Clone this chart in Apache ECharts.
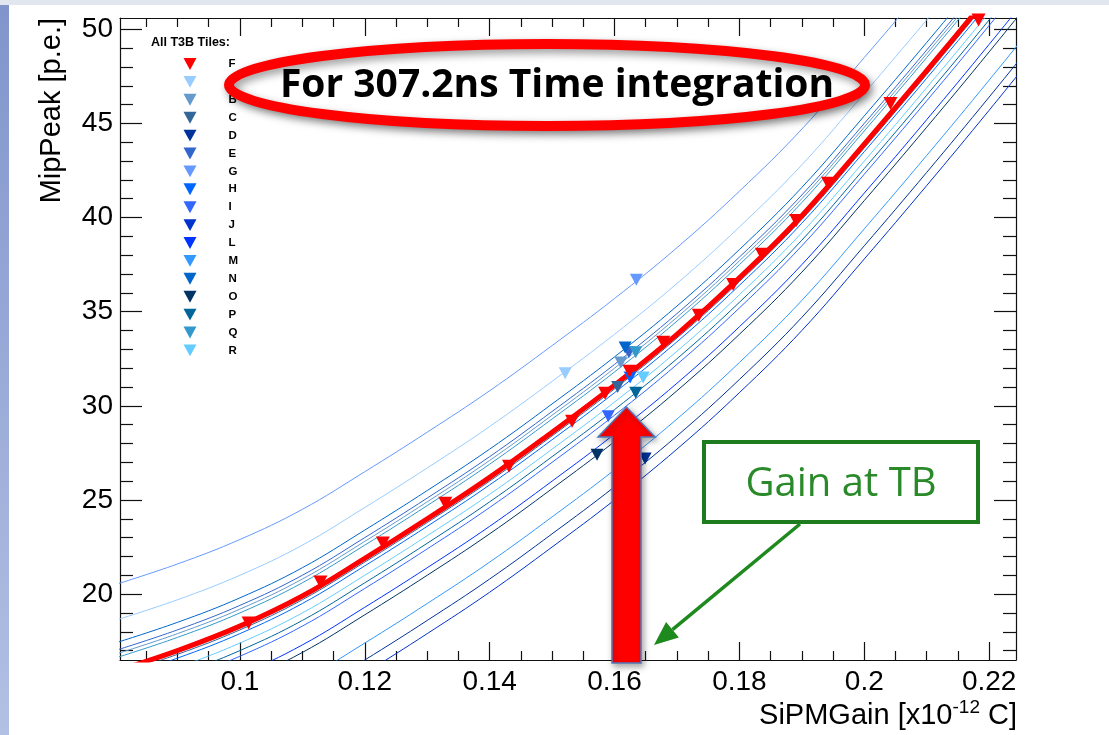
<!DOCTYPE html>
<html><head><meta charset="utf-8">
<script src="https://cdn.jsdelivr.net/npm/echarts@6/dist/echarts.min.js"></script>
<style>html,body{margin:0;padding:0;background:#fff}#c{width:1109px;height:735px}</style>
</head><body><div id="c"></div>
<script>
// ---- data ----
const tiles = ['F','A','B','C','D','E','G','H','I','J','L','M','N','O','P','Q','R'];
const gainGrid = [0.08,0.09,0.10,0.11,0.12,0.13,0.14,0.15,0.16,0.17,0.18,0.19,0.20,0.21,0.22,0.23];
const fitF = [15.9,17.0,18.3,19.9,21.9,24.0,26.2,28.6,31.1,33.8,36.8,40.1,43.9,47.8,51.8,55.9];
const fitA = [18.6,19.7,21.0,22.6,24.6,26.7,28.9,31.3,33.8,36.5,39.5,42.8,46.6,50.5,54.5,58.6];
const fitB = [16.8,17.9,19.2,20.8,22.8,24.9,27.1,29.5,32.0,34.7,37.7,41.0,44.8,48.7,52.7,56.8];
const fitC = [15.7,16.8,18.1,19.7,21.7,23.8,26.0,28.4,30.9,33.6,36.6,39.9,43.7,47.6,51.6,55.7];
const fitD = [10.5,11.6,12.9,14.5,16.5,18.6,20.8,23.2,25.7,28.4,31.4,34.7,38.5,42.4,46.4,50.5];
const fitE = [17.0,18.1,19.4,21.0,23.0,25.1,27.3,29.7,32.2,34.9,37.9,41.2,45.0,48.9,52.9,57.0];
const fitG = [20.5,21.6,22.9,24.5,26.5,28.6,30.8,33.2,35.7,38.4,41.4,44.7,48.5,52.4,56.4,60.5];
const fitH = [15.5,16.6,17.9,19.5,21.5,23.6,25.8,28.2,30.7,33.4,36.4,39.7,43.5,47.4,51.4,55.5];
const fitI = [14.3,15.4,16.7,18.3,20.3,22.4,24.6,27.0,29.5,32.2,35.2,38.5,42.3,46.2,50.2,54.3];
const fitJ = [9.8,10.9,12.2,13.8,15.8,17.9,20.1,22.5,25.0,27.7,30.7,34.0,37.8,41.7,45.7,49.8];
const fitL = [13.3,14.4,15.7,17.3,19.3,21.4,23.6,26.0,28.5,31.2,34.2,37.5,41.3,45.2,49.2,53.3];
const fitM = [11.4,12.5,13.8,15.4,17.4,19.5,21.7,24.1,26.6,29.3,32.3,35.6,39.4,43.3,47.3,51.4];
const fitN = [17.4,18.5,19.8,21.4,23.4,25.5,27.7,30.1,32.6,35.3,38.3,41.6,45.4,49.3,53.3,57.4];
const fitO = [12.9,14.0,15.3,16.9,18.9,21.0,23.2,25.6,28.1,30.8,33.8,37.1,40.9,44.8,48.8,52.9];
const fitP = [14.6,15.7,17.0,18.6,20.6,22.7,24.9,27.3,29.8,32.5,35.5,38.8,42.6,46.5,50.5,54.6];
const fitQ = [16.6,17.7,19.0,20.6,22.6,24.7,26.9,29.3,31.8,34.5,37.5,40.8,44.6,48.5,52.5,56.6];
const fitR = [15.0,16.1,17.4,19.0,21.0,23.1,25.3,27.7,30.2,32.9,35.9,39.2,43.0,46.9,50.9,55.0];

const ptsF = [[0.1014,18.46],[0.1129,20.64],[0.1229,22.71],[0.1329,24.83],[0.1431,26.79],[0.1532,29.18],[0.1585,30.67],[0.1624,31.84],[0.1678,33.38],[0.1735,34.81],[0.1790,36.45],[0.1836,38.05],[0.1891,39.85],[0.1942,41.82],[0.2042,46.06],[0.2183,50.5]];
const ptsA = [[0.1521,31.73]];
const ptsB = [[0.1610,32.3]];
const ptsC = [[0.1605,31.0]];
const ptsD = [[0.1649,27.2]];
const ptsE = [[0.1623,32.85]];
const ptsG = [[0.1635,36.7]];
const ptsH = [[0.1625,31.5]];
const ptsI = [[0.1590,29.45]];
const ptsJ = [[0.1620,25.3]];
const ptsL = [[0.1612,28.8]];
const ptsM = [[0.1620,27.1]];
const ptsN = [[0.1617,33.1]];
const ptsO = [[0.1572,27.4]];
const ptsP = [[0.1634,30.7]];
const ptsQ = [[0.1634,32.85]];
const ptsR = [[0.1646,31.5]];

const xMajor = [0.10,0.12,0.14,0.16,0.18,0.20,0.22];
const xMinor = [0.085,0.09,0.095,0.105,0.11,0.115,0.125,0.13,0.135,0.145,0.15,0.155,0.165,0.17,0.175,0.185,0.19,0.195,0.205,0.21,0.215];
const yMajor = [20,25,30,35,40,45,50];
const yMinor = [17,18,19,21,22,23,24,26,27,28,29,31,32,33,34,36,37,38,39,41,42,43,44,46,47,48,49];
const xRange = [0.0808, 0.2243];
const yRange = [16.5, 50.6];

// ---- styles ----
const tileColors = {F:'#ff0000',A:'#99ccff',B:'#6699cc',C:'#336699',D:'#003399',E:'#3366cc',G:'#6699ff',H:'#0066ff',I:'#3366ff',J:'#0033cc',L:'#0033ff',M:'#3399ff',N:'#0066cc',O:'#003366',P:'#006699',Q:'#3399cc',R:'#66ccff'};
const fits = {F:fitF,A:fitA,B:fitB,C:fitC,D:fitD,E:fitE,G:fitG,H:fitH,I:fitI,J:fitJ,L:fitL,M:fitM,N:fitN,O:fitO,P:fitP,Q:fitQ,R:fitR};
const pts = {F:ptsF,A:ptsA,B:ptsB,C:ptsC,D:ptsD,E:ptsE,G:ptsG,H:ptsH,I:ptsI,J:ptsJ,L:ptsL,M:ptsM,N:ptsN,O:ptsO,P:ptsP,Q:ptsQ,R:ptsR};
const FONT = '"Liberation Sans", Arial, sans-serif';

const series = [];
tiles.forEach(t => {
  series.push({
    name: t + ' fit', type: 'line', smooth: 0.4, showSymbol: false, clip: true,
    data: gainGrid.map((x, i) => [x, fits[t][i]]),
    lineStyle: {color: tileColors[t], width: t === 'F' ? 5 : 1},
    itemStyle: {color: tileColors[t]},
    z: t === 'F' ? 4 : 2, silent: true
  });
});
tiles.forEach(t => {
  series.push({
    name: t, type: 'scatter', symbol: 'triangle', symbolRotate: 180,
    symbolSize: t === 'F' ? [14, 13] : [13, 12],
    data: pts[t], clip: true,
    itemStyle: {color: tileColors[t], opacity: 1},
    z: t === 'F' ? 6 : 5, silent: true
  });
});

function xAx(pos, ticks, len, line) {
  return {type:'value', position:pos, min:xRange[0], max:xRange[1],
    axisLine:{show:line, onZero:false, lineStyle:{color:'#111', width:1.2}},
    axisTick:{show:true, inside:true, length:len, customValues:ticks, lineStyle:{color:'#111', width:1.2}},
    axisLabel:{show:false}, splitLine:{show:false}, minorTick:{show:false}};
}
function yAx(pos, ticks, len, line) {
  return {type:'value', position:pos, min:yRange[0], max:yRange[1],
    axisLine:{show:line, onZero:false, lineStyle:{color:'#111', width:1.2}},
    axisTick:{show:true, inside:true, length:len, customValues:ticks, lineStyle:{color:'#111', width:1.2}},
    axisLabel:{show:false}, splitLine:{show:false}, minorTick:{show:false}};
}
const xAxes = [xAx('bottom', xMajor, 18, true), xAx('bottom', xMinor, 9, false), xAx('top', xMajor, 18, true), xAx('top', xMinor, 9, false)];
xAxes[0].axisLabel = {show:true, customValues:xMajor, margin:8, fontSize:28, color:'#000', fontFamily:FONT};
const yAxes = [yAx('left', yMajor, 22, true), yAx('left', yMinor, 13, false), yAx('right', yMajor, 22, true), yAx('right', yMinor, 13, false)];
yAxes[0].axisLabel = {show:true, customValues:yMajor, margin:7, fontSize:28, color:'#000', fontFamily:FONT};

// annotation geometry (pixels)
const gStart = [800, 524], gTip = [654, 645];
const dx = gTip[0]-gStart[0], dy = gTip[1]-gStart[1], dl = Math.hypot(dx, dy);
const ux = dx/dl, uy = dy/dl, nx = -uy, ny = ux;
const hb = [gTip[0]-24*ux, gTip[1]-24*uy];

const chart = echarts.init(document.getElementById('c'), null, {renderer:'canvas'});
chart.setOption({
  animation: false,
  backgroundColor: '#ffffff',
  grid: {left:120, right:93, top:18, bottom:75, containLabel:false, outerBoundsMode:'none'},
  xAxis: xAxes,
  yAxis: yAxes,
  legend: {
    orient:'vertical', left:178.5, top:53, itemWidth:13, itemHeight:13, itemGap:5.9,
    selectedMode:false, data: tiles.map(t => ({name:t, icon:'path://M0,0L12,0L6,11Z'})),
    textStyle:{fontSize:11.5, fontWeight:'bold', color:'#000', fontFamily:FONT, padding:[0,0,0,27]}
  },
  series: series,
  graphic: [
    {type:'rect', silent:true, z:0, shape:{x:0,y:0,width:1109,height:5}, style:{fill:'#e2e6ee'}},
    {type:'rect', silent:true, z:0, shape:{x:0,y:5,width:9,height:730},
      style:{fill:new echarts.graphic.LinearGradient(0,0,0,1,[{offset:0,color:'#8195cc'},{offset:1,color:'#b2c0e3'}])}},
    {type:'text', silent:true, x:151, y:43, style:{text:'All T3B Tiles:', fontSize:12.5, fontWeight:'bold', fontFamily:FONT, fill:'#000', align:'left', verticalAlign:'middle'}},
    {type:'text', silent:true, x:52, y:18, rotation:Math.PI/2, style:{text:'MipPeak [p.e.]', fontSize:29, fontFamily:FONT, fill:'#000', align:'right', verticalAlign:'middle'}},
    {type:'text', silent:true, x:1017, y:714, style:{text:'{a|SiPMGain [x10}{s|-12}{a| C]}', align:'right', verticalAlign:'middle',
      rich:{a:{fontSize:29, fontFamily:FONT, fill:'#000', color:'#000', lineHeight:32, verticalAlign:'bottom'}, s:{fontSize:19, fontFamily:FONT, color:'#000', fill:'#000', lineHeight:21, verticalAlign:'top'}}}},
    {type:'ellipse', silent:true, z:100, shape:{cx:547, cy:85, rx:318, ry:41},
      style:{fill:'#ffffff', stroke:'#ff0000', lineWidth:10, shadowBlur:8, shadowOffsetX:3, shadowOffsetY:4, shadowColor:'rgba(0,0,0,0.4)'}},
    {type:'text', silent:true, z:101, x:557, y:86, style:{text:'For 307.2ns Time integration', fontSize:39, fontWeight:'bold', fontFamily:'"Open Sans", sans-serif', fill:'#000', align:'center', verticalAlign:'middle'}},
    {type:'polygon', silent:true, z:100, shape:{points:[[612,663],[612,437],[598,437],[626.5,407],[655,437],[641,437],[641,663]]},
      style:{fill:'#ff0000', stroke:'#4f78b8', lineWidth:1.5, shadowBlur:6, shadowOffsetX:2, shadowOffsetY:3, shadowColor:'rgba(0,0,0,0.35)'}},
    {type:'rect', silent:true, z:100, shape:{x:704, y:442, width:274, height:80}, style:{fill:'#ffffff', stroke:'#1e7b1e', lineWidth:4}},
    {type:'text', silent:true, z:101, x:841, y:485, style:{text:'Gain at TB', fontSize:40, fontFamily:'"Open Sans", sans-serif', fill:'#2a8a2a', align:'center', verticalAlign:'middle'}},
    {type:'line', silent:true, z:100, shape:{x1:gStart[0], y1:gStart[1], x2:hb[0], y2:hb[1]}, style:{stroke:'#1e8a1e', lineWidth:3.5}},
    {type:'polygon', silent:true, z:100, shape:{points:[[gTip[0],gTip[1]],[hb[0]+10*nx,hb[1]+10*ny],[hb[0]-10*nx,hb[1]-10*ny]]}, style:{fill:'#1e8a1e'}}
  ]
});
</script>
</body></html>
